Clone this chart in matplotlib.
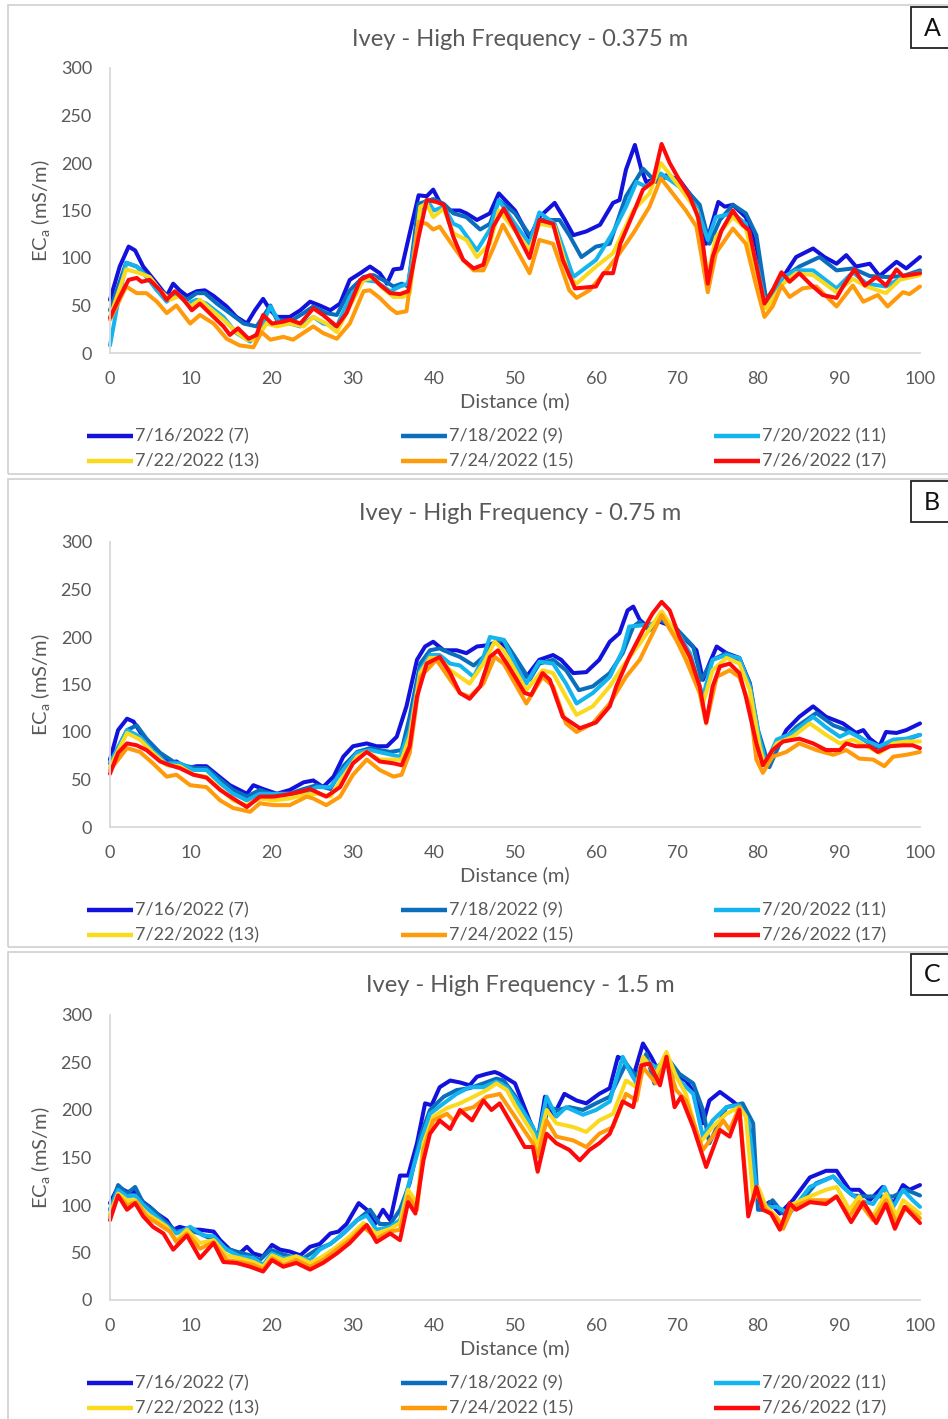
import matplotlib
matplotlib.use("Agg")
import matplotlib.pyplot as plt
from matplotlib.lines import Line2D
from matplotlib.patches import Rectangle

plt.rcParams['font.family'] = ['Lato', 'DejaVu Sans']
plt.rcParams['mathtext.fontset'] = 'custom'
plt.rcParams['mathtext.rm'] = 'Lato'
plt.rcParams['mathtext.it'] = 'Lato:italic'

# ---------------- data ----------------
series_labels = ["7/16/2022 (7)", "7/18/2022 (9)", "7/20/2022 (11)",
                 "7/22/2022 (13)", "7/24/2022 (15)", "7/26/2022 (17)"]
series_colors = ["#1212dc", "#0a6ebd", "#14b4ee", "#fbd91c", "#ff9a0a", "#ff0a0a"]
panel_titles = ["Ivey - High Frequency - 0.375 m", "Ivey - High Frequency - 0.75 m",
                "Ivey - High Frequency - 1.5 m"]
panel_letters = ["A", "B", "C"]
x_ticks = [0, 10, 20, 30, 40, 50, 60, 70, 80, 90, 100]
y_ticks = [0, 50, 100, 150, 200, 250, 300]

# Panel A (0.375 m)
a16_x = [0, 1.2, 2.3, 3.1, 4.1, 5.8, 7, 7.8, 8.6, 9.5, 10.7, 11.7, 12.8, 14.4, 15.6, 16.9, 17.9, 18.9, 19.8, 20.6,
         22.2, 23.5, 24.7, 25.9, 27.2, 28.4, 29.6, 30.9, 32.1, 33.3, 34.2, 35, 36, 37, 38.1, 39.1, 39.9, 40.7, 42,
         43.2, 44, 45.3, 46.9, 48, 50, 51.8, 53, 54.9, 56.1, 57.2, 58.8, 60.5, 62.1, 62.9, 63.7, 64.8, 65.6, 66.2,
         68.7, 70.3, 72.4, 73.6, 75.1, 75.9, 76.9, 78.5, 79.8, 81, 83.1, 84.7, 86.8, 88.2, 89.7, 90.9, 92.1, 93.8,
         95, 97.1, 98.3, 100]
a16_y = [56, 91, 112, 108, 91, 73, 60, 73, 66, 60, 65, 66, 60, 49, 38, 31, 45, 57, 45, 38,
         38, 45, 54, 50, 45, 52, 77, 84, 91, 84, 73, 88, 89, 126, 166, 165, 172, 159, 150,
         150, 147, 140, 147, 168, 150, 121, 143, 158, 141, 124, 128, 135, 158, 161, 193, 219, 193, 180,
         187, 182, 158, 115, 159, 154, 156, 143, 112, 54, 80, 101, 110, 101, 94, 103, 91, 94,
         81, 96, 89, 101]
a18_x = [0, 2, 3.3, 4.5, 5.8, 7, 8.2, 9.5, 10.7, 11.7, 13.2, 14.8, 16.5, 18.1, 19.8, 20.6, 22.2, 23.9, 25.1,
         26.7, 28, 29.6, 31.3, 32.5, 33.7, 35, 36, 36.8, 38.1, 39.9, 41.2, 42.4, 44, 45.7, 46.9, 48, 50, 51.8,
         53.4, 55.5, 56.7, 58.2, 60, 61.7, 63.7, 65.8, 67.4, 69.1, 71.1, 72.8, 74, 75.3, 76.9, 78.5, 79.8, 81,
         82.7, 85.1, 87.6, 89.7, 91.7, 93.8, 95.8, 97.9, 100]
a18_y = [45, 95, 91, 82, 66, 60, 63, 56, 63, 63, 52, 42, 31, 28, 50, 35, 33, 42, 49,
         42, 40, 66, 80, 82, 77, 70, 73, 70, 157, 162, 157, 147, 143, 130, 136, 161, 147, 124,
         140, 140, 124, 101, 112, 115, 165, 194, 180, 187, 172, 156, 115, 140, 156, 147, 124, 56,
         77, 91, 101, 87, 89, 81, 80, 81, 87]
a20_x = [0, 0.8, 2, 3.3, 4.5, 5.8, 7, 8.2, 9.5, 10.7, 11.9, 14, 15.6, 17.3, 18.5, 19.8, 21, 22.2, 23.5, 25.1,
         26.3, 28, 29.6, 31.3, 32.9, 34.6, 35.8, 36.8, 38.3, 39.1, 40, 41.2, 42.4, 43.2, 45.3, 46.9, 48, 50,
         51.8, 53, 54.9, 57.2, 60, 62.1, 63.7, 65, 66.2, 68, 70.3, 72.4, 73.8, 74.8, 76.9, 78.5, 79.9, 81,
         83.1, 84.7, 86.8, 89.7, 91.7, 93.4, 95.8, 97.9, 100]
a20_y = [8, 45, 95, 91, 80, 66, 54, 63, 52, 56, 52, 38, 21, 12, 24, 49, 31, 31, 28, 38,
         31, 28, 59, 77, 75, 65, 70, 73, 150, 161, 150, 154, 136, 133, 108, 130, 161, 136,
         115, 148, 136, 80, 98, 127, 154, 180, 175, 189, 175, 154, 119, 143, 147, 136, 91, 49,
         80, 87, 87, 68, 85, 73, 70, 80, 85]
a22_x = [0, 2, 3.7, 4.9, 6.2, 7.4, 8.6, 9.9, 11.1, 12.3, 14, 15.6, 16.9, 18.1, 19.3, 20.6, 22.2, 23.9, 25.1,
         26.7, 28, 29.6, 31.3, 32.5, 33.7, 35, 36.2, 37, 38.3, 39.1, 39.9, 41.2, 42.4, 44, 45.3, 46.9, 48, 50,
         51.8, 53, 54.9, 56.7, 57.6, 60, 62.1, 64.6, 66.6, 68, 70.3, 72.4, 73.8, 74.8, 76.9, 78.5, 80, 81,
         83.1, 84.7, 86.8, 89.7, 91.7, 93.4, 95.8, 97.5, 100]
a22_y = [38, 88, 84, 80, 66, 56, 60, 49, 56, 47, 35, 22, 14, 14, 31, 28, 31, 28, 38,
         31, 22, 49, 77, 79, 68, 59, 59, 63, 154, 157, 143, 152, 126, 119, 101, 115, 150, 129,
         108, 136, 133, 80, 73, 91, 105, 150, 168, 200, 175, 150, 80, 122, 143, 131, 80, 47,
         73, 84, 82, 64, 78, 70, 63, 77, 82]
a24_x = [0, 2, 3.3, 4.5, 5.8, 7, 8.2, 9.9, 11.1, 12.8, 14.4, 16, 17.7, 18.7, 19.8, 21.4, 22.6, 25.1, 26.3,
         28, 29.6, 31.3, 32.1, 33.3, 34.6, 35.4, 36.6, 38.1, 39.1, 39.9, 40.7, 42.4, 43.6, 44.9, 46.1, 47.3,
         48.5, 50, 51.8, 53, 54.7, 56.7, 57.6, 59.2, 61.3, 62.9, 64.6, 66.6, 68, 69.1, 71.1, 72.4, 73.8, 74.8,
         76.9, 78.5, 79.8, 80.8, 81.8, 82.9, 83.9, 85.5, 87.2, 89.7, 91.7, 93, 94.8, 96, 97.9, 98.7, 100]
a24_y = [35, 70, 63, 63, 54, 42, 50, 31, 40, 31, 15, 8, 6, 22, 14, 17, 14, 28, 21,
         15, 31, 65, 66, 58, 47, 42, 44, 138, 136, 130, 133, 112, 98, 87, 87, 110,
         135, 112, 84, 119, 115, 66, 58, 66, 87, 105, 126, 154, 184, 172, 150, 133, 64, 105,
         131, 115, 70, 38, 49, 71, 59, 68, 70, 49, 71, 54, 61, 49, 64, 62, 70]
a26_x = [0, 1.2, 2.3, 3.3, 3.9, 4.9, 6.2, 7, 8, 9.1, 10.1, 11.1, 12.3, 14, 14.8, 15.8, 17.1, 18.1, 18.9, 20,
         21.4, 22.2, 23.5, 25.1, 26.3, 28, 29.2, 30.9, 32.1, 33.3, 34.6, 35.8, 36.8, 38.1, 39.1, 40.3, 41.2,
         42.4, 43.6, 44.9, 46.1, 47.3, 48.6, 50, 51.8, 53, 54.7, 55.9, 57.4, 60, 60.9, 62.1, 63, 64.6, 65.8,
         67, 68.1, 69.1, 70.3, 71.6, 72.6, 73.2, 73.8, 74.4, 75.5, 76.9, 78.1, 78.9, 80, 80.8, 81.8, 82.9,
         83.9, 85.1, 86.4, 88, 89.7, 90.5, 91.9, 93.2, 94.6, 95.8, 97.1, 97.9, 100]
a26_y = [37, 59, 77, 79, 75, 77, 66, 56, 65, 56, 45, 52, 42, 28, 19, 26, 15, 19, 40, 31,
         33, 35, 31, 47, 40, 28, 42, 77, 82, 72, 63, 62, 65, 122, 161, 159, 156,
         122, 98, 89, 93, 133, 152, 130, 100, 140, 136, 98, 68, 70, 84, 84, 115, 147, 172,
         180, 220, 200, 182, 164, 143, 115, 73, 101, 129, 150, 135, 129, 84, 52, 66, 85,
         75, 84, 73, 61, 58, 70, 88, 71, 80, 71, 88, 81, 84]

# Panel B (0.75 m)
b16_x = [0, 1, 2.1, 2.9, 4.1, 5.8, 7.4, 8.2, 9.5, 10.7, 11.9, 13.2, 14.8, 16.9, 17.7, 18.9, 20.6, 22.2, 23.9,
         25.1, 26.3, 27.6, 28.8, 30, 31.7, 32.9, 34.2, 35.4, 36.6, 37.9, 38.9, 39.9, 41.2, 42.8, 44, 45.3, 46.3,
         48.1, 50, 51.4, 53, 54.7, 55.7, 57.2, 58.8, 60.4, 61.7, 62.9, 63.9, 64.6, 65.4, 66.2, 67.9, 69.5, 71.1,
         72.4, 73.2, 74, 74.9, 76.1, 77.7, 79, 79.8, 80.6, 81.8, 83.5, 85.1, 86.8, 88.4, 90.5, 92.1, 93, 93.8,
         95, 95.8, 97.1, 98.3, 100]
b16_y = [71, 102, 114, 111, 95, 78, 67, 69, 62, 64, 64, 55, 44, 35, 44, 40, 35, 39, 47,
         49, 42, 53, 74, 85, 88, 85, 85, 95, 127, 176, 190, 195, 186, 186, 183, 190, 191,
         195, 176, 158, 176, 181, 176, 162, 163, 176, 195, 204, 228, 232, 218, 212, 216, 211, 197,
         186, 155, 172, 190, 183, 178, 151, 102, 67, 74, 102, 116, 127, 116, 109, 99, 102, 93,
         85, 100, 99, 102, 109]
b18_x = [0, 2.1, 3.3, 4.5, 6.2, 7.8, 9.5, 10.7, 11.9, 13.6, 15.2, 16.9, 18.5, 20.2, 22.2, 23.9, 25.5, 27.2,
         28.8, 30.5, 32.1, 33.3, 34.6, 36, 37, 38.3, 39.5, 40.7, 42, 43.2, 44.9, 46.1, 47.3, 48.6, 50, 51.8, 53,
         54.7, 56.3, 57.9, 59.6, 61.7, 63.3, 64.6, 65.4, 66.6, 67.9, 69.9, 72, 73, 74.4, 76.1, 77.7, 79, 80,
         81.4, 82.7, 84.7, 87.2, 89.3, 90.9, 92.5, 94.6, 96.3, 98.3, 100]
b18_y = [67, 102, 107, 93, 78, 69, 64, 62, 62, 50, 39, 32, 39, 34, 35, 40, 44, 40,
         64, 79, 83, 81, 79, 81, 116, 172, 186, 188, 183, 179, 170, 179, 193, 197, 179, 155, 172,
         176, 165, 144, 148, 162, 183, 211, 216, 207, 218, 209, 190, 155, 176, 183, 176, 151, 102,
         63, 88, 105, 120, 107, 102, 95, 83, 88, 92, 97]
b20_x = [0, 2.1, 3.7, 5.3, 7, 8.6, 10.3, 11.9, 13.6, 15.2, 16.9, 18.5, 20.2, 22.2, 23.9, 25.5, 27.2, 28.8,
         30.5, 32.1, 33.7, 35.8, 37, 38.3, 39.5, 40.7, 42, 43.2, 44.9, 46.1, 46.9, 48.6, 50, 51.4, 53, 54.7,
         56.3, 57.6, 59.6, 61.7, 63.3, 64.1, 65.4, 67, 68.1, 69.9, 71.6, 73.2, 74.4, 76.1, 77.7, 79, 80.2, 81,
         82.3, 84.3, 86.8, 88.4, 90.1, 91.3, 93, 95, 96.7, 98.3, 100]
b20_y = [67, 102, 95, 80, 67, 67, 60, 60, 46, 35, 28, 35, 35, 35, 35, 42, 42, 60,
         78, 81, 78, 74, 102, 165, 181, 181, 172, 170, 158, 179, 200, 197, 172, 151, 174, 172,
         151, 130, 141, 158, 186, 211, 212, 214, 221, 207, 183, 137, 176, 181, 178, 148, 92, 67,
         92, 99, 116, 105, 95, 100, 92, 85, 92, 93, 97]
b22_x = [0, 2.1, 3.7, 5.3, 7, 8.6, 10.3, 11.9, 13.6, 15.2, 16.9, 18.5, 20.2, 22.2, 23.9, 25.5, 27.2, 28.8,
         30.5, 31.7, 33.3, 35, 36, 37, 38.3, 39.5, 40.7, 42, 43.2, 44.4, 46.1, 47.5, 48.6, 50, 51.4, 53.4,
         54.7, 56.3, 57.6, 59.6, 61.7, 63.3, 65.4, 68.1, 69.9, 71.6, 73.2, 74.4, 76.1, 77.7, 79, 80.2, 80.8,
         82.3, 84.3, 86.4, 88.4, 90.1, 91.7, 93.4, 95, 96.7, 98.3, 100]
b22_y = [63, 99, 92, 78, 65, 64, 55, 53, 40, 28, 23, 30, 28, 30, 34, 35, 32, 53,
         74, 79, 71, 71, 71, 95, 162, 178, 178, 165, 158, 151, 172, 195, 186, 165, 144, 165,
         162, 137, 118, 127, 148, 169, 193, 227, 204, 176, 130, 165, 178, 172, 144, 85, 65,
         88, 95, 109, 97, 88, 92, 85, 78, 88, 90, 90]
b24_x = [0, 2.1, 3.7, 5.3, 7, 8.2, 9.9, 11.9, 13.6, 15.2, 17.3, 18.5, 20.2, 22.2, 24.3, 25.1, 26.7, 28.4,
         30, 31.7, 33.3, 35, 36, 37, 38.3, 39.1, 40.3, 42, 43.2, 44.4, 46.1, 47.5, 48.6, 50, 51.4, 53.4, 54.7,
         56.3, 57.6, 59.6, 61.7, 63.7, 65.4, 68.1, 69.9, 71.1, 72.8, 73.6, 74.9, 76.5, 77.7, 79, 79.8, 80.6,
         81.8, 83.5, 85.1, 87.2, 89.3, 90.9, 92.5, 94.2, 95.6, 96.7, 98.3, 100]
b24_y = [60, 83, 79, 67, 53, 55, 44, 42, 28, 20, 16, 25, 23, 23, 32, 30, 23, 32,
         55, 71, 60, 53, 55, 78, 158, 165, 176, 155, 141, 137, 151, 179, 172, 151, 130, 158, 148,
         109, 100, 109, 130, 158, 176, 223, 197, 176, 141, 109, 158, 165, 158, 127, 71, 57,
         74, 79, 88, 81, 76, 81, 72, 71, 64, 74, 76, 79]
b26_x = [0, 1, 2.1, 3.3, 4.5, 6.2, 7.4, 8.6, 10.3, 11.9, 13.6, 15.2, 16.9, 18.5, 20.2, 21.8, 23.5, 24.7, 26.7,
         28.4, 30, 31.7, 33.3, 35, 36, 37, 37.9, 39.1, 40.7, 42, 43.2, 44.4, 45.7, 46.9, 47.9, 49, 50, 51.2, 52,
         53.4, 54.3, 55.9, 58, 60, 61.7, 62.5, 64.1, 65.8, 67, 68.1, 69.1, 70.3, 71.6, 72.8, 73.6, 74.4, 75.3,
         76.5, 77.7, 78.5, 79.8, 80.6, 81.8, 83.1, 85.1, 86.8, 88.4, 90.1, 90.9, 92.1, 93.8, 94.8, 96.3, 97.9,
         99.1, 100]
b26_y = [56, 78, 88, 86, 81, 69, 65, 62, 55, 52, 39, 30, 21, 32, 32, 34, 37, 40, 32,
         42, 67, 79, 69, 67, 65, 85, 137, 172, 179, 162, 141, 135, 148, 179, 186, 172, 158, 141, 139,
         162, 155, 116, 104, 110, 127, 148, 179, 207, 225, 237, 228, 200, 179, 148, 110, 148, 169,
         172, 162, 137, 88, 65, 81, 90, 93, 88, 81, 81, 88, 85, 85, 79, 85, 86,
         86, 83]

# Panel C (1.5 m)
c16_x = [0, 1, 2.1, 3.1, 4.1, 4.9, 5.8, 7, 7.8, 8.6, 9.9, 11.1, 12.8, 13.6, 14.8, 16, 16.9, 17.7, 18.9, 20,
         21, 22.2, 23.5, 24.7, 25.9, 27.2, 28.2, 29.2, 30.7, 31.7, 32.7, 33.7, 34.6, 35.8, 36.8, 37.9, 38.9,
         39.7, 40.7, 42, 43.2, 44.4, 45.3, 46.5, 47.5, 48.1, 50, 51.8, 52.8, 53.7, 54.7, 56.1, 57.6, 58.8,
         60.4, 61.7, 62.7, 63.5, 64.6, 65.8, 66.8, 67.9, 68.7, 69.9, 71.1, 72.4, 73.2, 74, 75.3, 76.9, 77.7,
         78.5, 79.2, 79.8, 80.6, 81.4, 82.7, 84.3, 86.4, 88.4, 89.7, 91.3, 92.5, 93.8, 95.4, 96.7, 97.9,
         98.7, 100]
c16_y = [102, 119, 114, 114, 103, 98, 91, 84, 74, 77, 74, 74, 72, 63, 53, 49, 56, 49, 46, 58,
         53, 51, 47, 56, 59, 70, 72, 80, 102, 95, 80, 95, 84, 131, 131, 165, 207,
         205, 224, 231, 229, 226, 235, 238, 240, 238, 228, 189, 168, 214, 193, 217, 210, 207,
         217, 223, 256, 252, 235, 270, 256, 238, 256, 235, 231, 214, 186, 210, 219, 209, 203,
         196, 172, 119, 98, 103, 91, 105, 129, 136, 136, 116, 116, 105, 119, 101, 121,
         116, 121]
c18_x = [0, 1, 2.1, 3.1, 4.1, 5.3, 6.6, 8.2, 9.5, 11.1, 12.8, 14.4, 15.6, 17.3, 18.5, 19.8, 21, 22.2, 23.9,
         25.5, 27.2, 28.8, 30.5, 32.1, 33.3, 34.6, 35.8, 37, 38.3, 39.5, 41.2, 42.8, 44.4, 46.1, 47.7, 48.6,
         50, 52.2, 53, 54.1, 55.3, 56.7, 58.4, 60, 61.7, 62.9, 63.7, 65, 66.2, 67.2, 68.7, 70.3, 72, 73.2, 74,
         76.1, 78.1, 79.4, 80, 80.6, 81.8, 83.1, 84.7, 87.2, 89.3, 90.5, 91.7, 93.4, 95, 96.7, 98.3, 100]
c18_y = [95, 121, 112, 119, 102, 95, 84, 72, 74, 70, 63, 54, 51, 47, 42, 53, 49, 46, 44,
         53, 59, 70, 84, 95, 80, 80, 95, 123, 172, 200, 214, 221, 223, 228, 233, 231,
         215, 182, 165, 203, 200, 203, 200, 207, 214, 235, 249, 235, 259, 228, 256, 238, 228, 200, 165,
         203, 207, 186, 95, 95, 105, 91, 98, 123, 130, 119, 110, 109, 109, 109, 116, 110]
c20_x = [0, 1, 2.1, 3.1, 4.1, 5.3, 6.6, 8.2, 9.9, 11.5, 12.8, 14.4, 16, 17.7, 18.9, 20, 21.4, 23, 24.7, 25.9,
         27.2, 28.8, 30.5, 31.7, 32.9, 34.6, 35.8, 37, 38.3, 39.5, 41.2, 42.8, 44.4, 46.1, 47.7, 49, 50, 52.2,
         52.8, 53.9, 55.1, 56.3, 58.4, 60, 61.7, 63.3, 64.1, 65, 66.2, 67.4, 68.7, 70.3, 72, 73.2, 74.4, 76.1,
         77.7, 78.8, 79.8, 81, 82.3, 83.9, 86.4, 89.3, 90.9, 92.5, 94.2, 95.6, 96.7, 97.9, 99.1, 100]
c20_y = [95, 116, 109, 110, 100, 91, 81, 70, 77, 68, 67, 53, 46, 44, 37, 49, 44, 46, 42, 53,
         59, 70, 84, 89, 74, 77, 84, 126, 165, 196, 207, 217, 224, 224, 230, 224, 212, 182,
         168, 214, 193, 203, 195, 200, 209, 256, 242, 228, 252, 245, 252, 231, 217, 172, 189, 203,
         205, 189, 116, 98, 98, 91, 119, 130, 116, 105, 101, 119, 98, 116, 105, 98]
c22_x = [0, 1, 2.1, 3.1, 4.5, 5.8, 7, 8.2, 9.5, 11.1, 12.8, 14.4, 16, 17.7, 18.9, 20, 21.4, 23, 24.7, 26.3,
         28, 29.6, 31.3, 32.9, 34.6, 35.8, 36.8, 37.9, 38.7, 39.9, 41.6, 43.2, 44.9, 46.5, 47.7, 49, 50, 52.2,
         52.8, 53.9, 55.1, 57.2, 58.8, 60.4, 62.1, 63.7, 65, 65.8, 67.4, 68.7, 69.9, 71.1, 72.8, 74.4, 76.1,
         77.7, 78.5, 79.4, 80, 81, 82.3, 83.1, 84.3, 86.4, 88.4, 89.7, 91.3, 92.5, 94.2, 95.8, 97.1, 97.9, 100]
c22_y = [91, 112, 105, 105, 91, 84, 77, 63, 74, 60, 63, 47, 44, 40, 35, 47, 42, 46, 39, 46,
         56, 67, 81, 70, 75, 81, 116, 102, 165, 193, 202, 207, 214, 221, 228, 221, 205, 175,
         161, 200, 186, 182, 177, 189, 196, 231, 224, 256, 238, 261, 235, 217, 165, 182, 196,
         203, 193, 109, 119, 98, 88, 77, 101, 109, 116, 119, 95, 109, 88, 112, 88, 105, 91]
c24_x = [0, 1, 2.1, 3.3, 4.5, 5.8, 7.4, 8.2, 9.5, 11.1, 12.8, 14.4, 16, 17.7, 18.9, 20, 21.4, 23, 24.7, 26.3,
         28, 29.6, 31.3, 32.9, 34.6, 35.8, 36.8, 37.9, 38.7, 39.9, 41.6, 42.4, 43.6, 44.9, 46.5, 47.7, 48.1,
         50, 52.2, 52.8, 53.9, 55.1, 57.2, 58.8, 60.4, 62.1, 63.7, 65, 65.8, 67.4, 68.7, 69.9, 71.1, 73.2,
         74.4, 75.7, 76.5, 77.7, 78.8, 79.8, 81, 82.3, 83.1, 84.3, 86.4, 88.9, 89.7, 91.3, 92.5, 94.2, 95.8,
         97.1, 98.3, 100]
c24_y = [88, 110, 100, 103, 88, 81, 72, 61, 70, 54, 61, 42, 40, 37, 32, 44, 37, 42, 35, 42,
         53, 63, 77, 65, 72, 74, 109, 95, 158, 189, 196, 189, 200, 203, 214, 216, 217,
         193, 165, 151, 189, 172, 168, 161, 175, 182, 217, 210, 245, 228, 252, 221, 210, 158,
         172, 189, 179, 203, 95, 112, 95, 86, 75, 98, 105, 105, 109, 88, 103, 84, 105,
         81, 98, 86]
c26_x = [0, 1, 2.1, 3.1, 4.1, 5.3, 6.6, 7.8, 9.5, 11.1, 12.8, 14, 15.6, 17.3, 18.9, 20, 21.4, 23, 24.7, 26.3,
         28, 29.6, 31.7, 32.9, 34.6, 35.8, 36.8, 37.7, 38.7, 39.5, 40.7, 42, 43.2, 44.7, 46.1, 47.1, 48.1, 50,
         51.2, 52.2, 52.8, 53.9, 55.1, 56.7, 58, 59.2, 60.4, 61.7, 63.3, 64.6, 65.6, 66.6, 67.9, 68.7, 69.7,
         70.5, 72, 73.6, 75.3, 76.5, 77.7, 78.8, 79.8, 80.6, 81.6, 82.7, 83.9, 84.7, 86.4, 88.4, 89.7, 91.5,
         93, 94.6, 95.8, 96.9, 98.1, 100]
c26_y = [84, 110, 95, 102, 88, 77, 70, 53, 68, 44, 60, 40, 39, 35, 30, 42, 35, 39, 32, 39,
         49, 60, 79, 61, 70, 63, 103, 91, 147, 175, 189, 180, 200, 189, 210, 200, 207, 179,
         161, 161, 135, 175, 165, 158, 147, 158, 165, 175, 209, 203, 247, 249, 226, 256, 203,
         214, 182, 140, 179, 172, 200, 88, 119, 95, 91, 74, 102, 95, 103, 101, 109, 82,
         103, 81, 101, 75, 98, 81]

panels = [
    [(a16_x, a16_y), (a18_x, a18_y), (a20_x, a20_y), (a22_x, a22_y), (a24_x, a24_y), (a26_x, a26_y)],
    [(b16_x, b16_y), (b18_x, b18_y), (b20_x, b20_y), (b22_x, b22_y), (b24_x, b24_y), (b26_x, b26_y)],
    [(c16_x, c16_y), (c18_x, c18_y), (c20_x, c20_y), (c22_x, c22_y), (c24_x, c24_y), (c26_x, c26_y)],
]

# ---------------- layout ----------------
W, H = 948, 1419
fig = plt.figure(figsize=(W / 100, H / 100), dpi=100)
TXT = "#595959"
GRID = "#d9d9d9"
LW = 2.9


def fx(x):
    return x / W


def fy(y):
    return 1 - y / H


offsets = [0, 474, 947]
box_tops = [5, 479, 952]
box_bots = [474, 947, 1421]

for k, off in enumerate(offsets):
    # outer chart border
    bt, bb = box_tops[k], box_bots[k]
    fig.add_artist(Rectangle((fx(8), fy(bb)), fx(950) - fx(8), fy(bt) - fy(bb),
                             transform=fig.transFigure, fill=False, edgecolor="#d0d0d0", lw=1.2))

    ax = fig.add_axes([fx(110), fy(353 + off), fx(920) - fx(110), fy(68 + off) - fy(353 + off)])
    for (xs, ys), col in zip(panels[k], series_colors):
        ax.plot(xs, ys, color=col, lw=LW, solid_joinstyle="round", solid_capstyle="round", clip_on=False)
    ax.set_xlim(0, 100)
    ax.set_ylim(0, 300)
    ax.set_xticks(x_ticks)
    ax.set_yticks(y_ticks)
    ax.tick_params(length=0, labelsize=13, colors=TXT, pad=13)
    for s in ["top", "right"]:
        ax.spines[s].set_visible(False)
    for s in ["left", "bottom"]:
        ax.spines[s].set_color(GRID)
        ax.spines[s].set_linewidth(1.3)
    ax.patch.set_alpha(0)

    fig.text(fx(520), fy(39 + off), panel_titles[k], ha="center", va="center", fontsize=17, color=TXT)
    fig.text(fx(515), fy(401 + off), "Distance (m)", ha="center", va="center", fontsize=14.5, color=TXT)
    fig.text(fx(41), fy(211 + off), r"EC$_{\mathrm{a}}$ (mS/m)", ha="center", va="center",
             rotation=90, fontsize=14.5, color=TXT)

    # panel letter box
    lt = bt + 2
    fig.add_artist(Rectangle((fx(911), fy(lt + 41)), fx(960) - fx(911), fy(lt) - fy(lt + 41),
                             transform=fig.transFigure, fill=True, facecolor="white",
                             edgecolor="#222222", lw=1.3))
    fig.text(fx(932), fy(lt + 21), panel_letters[k], ha="center", va="center", fontsize=18, color="#111111")

    # legend
    col_x = [87, 401, 714]
    row_y = [436 + off, 461 + off]
    for i, (lab, col) in enumerate(zip(series_labels, series_colors)):
        r, c = divmod(i, 3)
        x0 = col_x[c]
        y0 = row_y[r]
        fig.add_artist(Line2D([fx(x0), fx(x0 + 46)], [fy(y0), fy(y0)], transform=fig.transFigure,
                              color=col, lw=LW + 0.3, solid_capstyle="butt"))
        fig.text(fx(x0 + 48), fy(y0), lab, ha="left", va="center", fontsize=13, color=TXT)

fig.savefig("out.png", dpi=100, facecolor="white")
